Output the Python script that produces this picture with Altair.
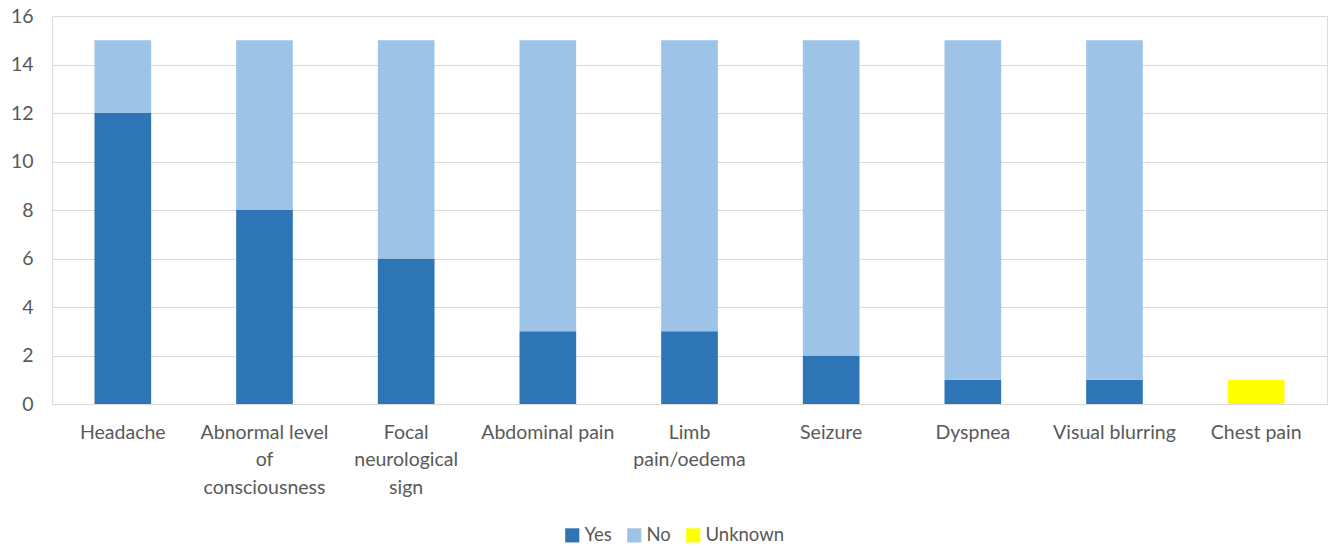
import altair as alt
import pandas as pd

categories = ["Headache", "Abnormal level\nof\nconsciousness", "Focal\nneurological\nsign",
              "Abdominal pain", "Limb\npain/oedema", "Seizure", "Dyspnea",
              "Visual blurring", "Chest pain"]
yes_vals = [12, 8, 6, 3, 3, 2, 1, 1, 0]
no_vals = [3, 7, 9, 12, 12, 13, 14, 14, 0]
unknown_vals = [0, 0, 0, 0, 0, 0, 0, 0, 1]
series = ["Yes", "No", "Unknown"]
colors = ["#2e75b6", "#9dc3e6", "#ffff00"]

rows = []
for i, c in enumerate(categories):
    for k, (s, vals) in enumerate(zip(series, [yes_vals, no_vals, unknown_vals])):
        rows.append({"category": c, "series": s, "value": vals[i], "ord": k})
df = pd.DataFrame(rows)

FONT = "Lato"
FS = 19.5
chart = alt.Chart(df).mark_bar().encode(
    x=alt.X("category:N", sort=categories, title=None,
            scale=alt.Scale(paddingInner=0.6, paddingOuter=0.3),
            axis=alt.Axis(labelAngle=0, labelExpr="split(datum.label, '\\n')",
                          labelFontSize=FS, labelColor="#595959", labelFont=FONT,
                          labelPadding=19, labelLineHeight=27.5, ticks=False,
                          domainColor="#d9d9d9", labelBaseline="top")),
    y=alt.Y("value:Q", stack="zero", title=None,
            scale=alt.Scale(domain=[0, 16], nice=False),
            axis=alt.Axis(values=list(range(0, 17, 2)), labelFontSize=FS, labelColor="#595959",
                          labelFont=FONT, domain=False, ticks=False, labelPadding=19,
                          gridColor="#d9d9d9")),
    color=alt.Color("series:N", sort=series,
                    scale=alt.Scale(domain=series, range=colors),
                    legend=alt.Legend(title=None, orient="none", direction="horizontal",
                                      legendX=511, legendY=510, symbolType="square",
                                      symbolSize=200, symbolStrokeWidth=0, labelOffset=3,
                                      labelFontSize=18.5, labelColor="#595959", labelFont=FONT,
                                      columnPadding=13)),
    order=alt.Order("ord:Q", sort="ascending"),
).properties(
    width=1275, height=388,
    autosize=alt.AutoSizeParams(type="none"),
    padding={"left": 52, "top": 16, "right": 1, "bottom": 144},
).configure_view(stroke=None).configure(background="white")

chart.save("out.html", embed_options={"renderer": "svg", "actions": False})
